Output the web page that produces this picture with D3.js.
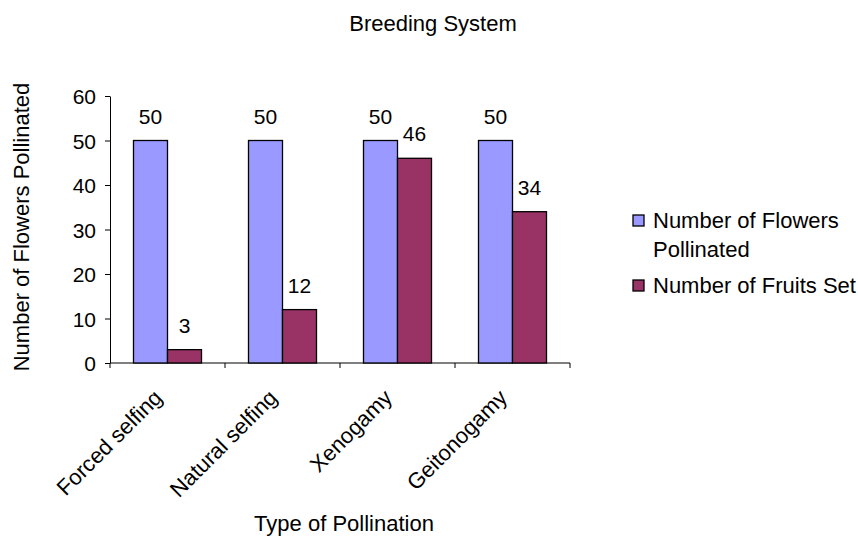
<!DOCTYPE html>
<html><head><meta charset="utf-8">
<script src="https://cdn.jsdelivr.net/npm/d3@7"></script>
<style>body{margin:0;background:#fff;} text{font-family:Arial,"Liberation Sans",sans-serif;fill:#000;}</style>
</head><body>
<svg id="c" width="858" height="536"></svg>
<script>
const categories = ["Forced selfing","Natural selfing","Xenogamy","Geitonogamy"];
const flowersPollinated = [50,50,50,50];
const fruitsSet = [3,12,46,34];
const seriesNames = ["Number of Flowers Pollinated","Number of Fruits Set"];
const seriesColors = ["#9999FF","#993366"];
const yTicks = [0,10,20,30,40,50,60];

const svg = d3.select("#c");
const x0 = 110, x1 = 570, yTop = 96, yBot = 363;
const x = d3.scaleBand().domain(categories).range([x0,x1]).paddingInner(0).paddingOuter(0);
const y = d3.scaleLinear().domain([0,60]).range([yBot,yTop]);
const bandW = x.bandwidth();
const barW = 34;
const gap = (bandW - 2*barW)/2;

const series = [flowersPollinated, fruitsSet];

// axes
const yAxis = d3.axisLeft(y).tickValues(yTicks).tickSize(5).tickSizeOuter(0);
const gy = svg.append("g").attr("transform",`translate(${x0},0)`).call(yAxis);
gy.attr("font-family",null).attr("font-size",null);
gy.select(".domain").attr("stroke","#000");
gy.selectAll("text").style("font-size","21px").attr("x",-14).attr("dy","0.36em");

const gx = svg.append("g").attr("transform",`translate(0,${yBot})`);
gx.append("line").attr("x1",x0).attr("x2",x1).attr("stroke","#000");
const bounds = categories.map(c=>x(c)).concat([x1]);
gx.selectAll(".tk").data(bounds).enter().append("line")
  .attr("x1",d=>d).attr("x2",d=>d).attr("y1",0).attr("y2",5).attr("stroke","#000");

// bars
series.forEach((vals,si)=>{
  svg.append("g").selectAll("rect").data(categories).enter().append("rect")
    .attr("x",c=>x(c)+gap+si*barW)
    .attr("width",barW)
    .attr("y",(c,i)=>y(vals[i]))
    .attr("height",(c,i)=>yBot-y(vals[i]))
    .attr("fill",seriesColors[si]).attr("stroke","#000").attr("stroke-width",1.3);
  svg.append("g").selectAll("text").data(categories).enter().append("text")
    .attr("x",c=>x(c)+gap+si*barW+barW/2)
    .attr("y",(c,i)=>y(vals[i])-17)
    .attr("text-anchor","middle").style("font-size","21px")
    .text((c,i)=>vals[i]);
});

// x labels
svg.append("g").selectAll("text").data(categories).enter().append("text")
  .attr("transform",c=>`translate(${x(c)+bandW/2-4},${yBot+36}) rotate(-45)`)
  .attr("text-anchor","end").style("font-size","22px")
  .text(c=>c);

// titles
svg.append("text").attr("x",433).attr("y",31).attr("text-anchor","middle").style("font-size","22px").text("Breeding System");
svg.append("text").attr("x",344).attr("y",531).attr("text-anchor","middle").style("font-size","22px").text("Type of Pollination");
svg.append("text").attr("transform",`translate(29,227) rotate(-90)`).attr("text-anchor","middle").style("font-size","22px").text("Number of Flowers Pollinated");

// legend
const lg = svg.append("g");
const legendRows = [["Number of Flowers","Pollinated"],["Number of Fruits Set"]];
const legY = [228, 293];
legendRows.forEach((lines,i)=>{
  lg.append("rect").attr("x",633).attr("y",legY[i]-13).attr("width",11).attr("height",11)
    .attr("fill",seriesColors[i]).attr("stroke","#000").attr("stroke-width",1.3);
  lines.forEach((t,j)=>{
    lg.append("text").attr("x",653).attr("y",legY[i]+j*29).style("font-size","22px").text(t);
  });
});
</script>
</body></html>
